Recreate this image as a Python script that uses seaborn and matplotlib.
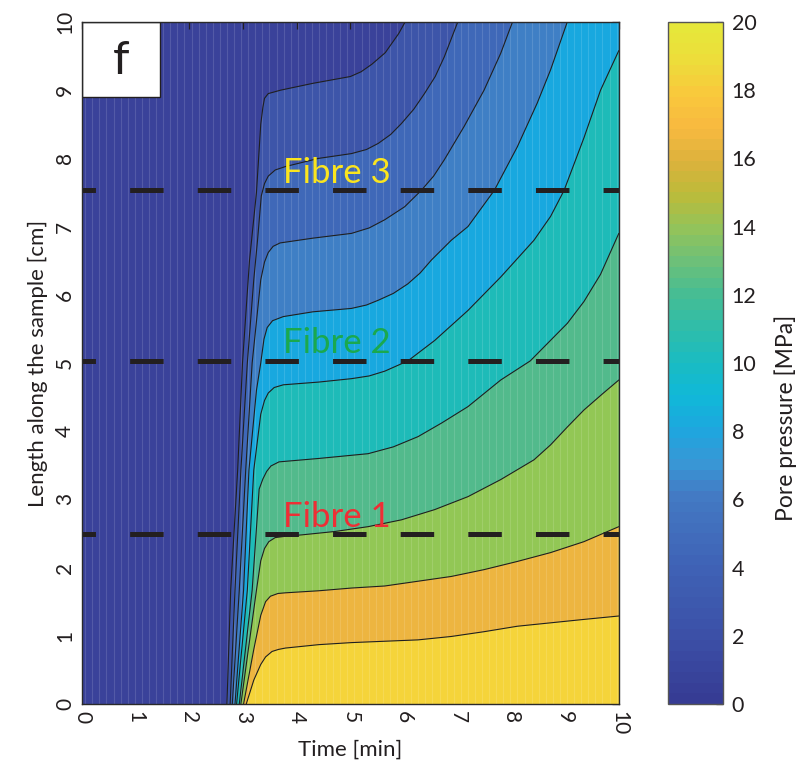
import numpy as np
import pandas as pd
import matplotlib
matplotlib.use("Agg")
import matplotlib.pyplot as plt
import seaborn as sns
from matplotlib.colors import LinearSegmentedColormap, Normalize
from matplotlib.cm import ScalarMappable
from matplotlib.patches import Rectangle

# ---------------- data ----------------
levels = [2, 4, 6, 8, 10, 12, 14, 16, 18]          # contour levels [MPa]

t_02 = [2.70, 2.77, 2.90, 2.99, 3.12, 3.25, 3.33, 3.37, 3.40, 3.47, 3.70, 4.30, 5.00, 5.20, 5.40, 5.65, 5.90, 6.02]
y_02 = [0.00, 1.67, 3.43, 5.00, 6.50, 7.50, 8.50, 8.75, 8.88, 8.95, 9.00, 9.10, 9.20, 9.27, 9.38, 9.55, 9.83, 10.0]

t_04 = [2.76, 2.85, 2.96, 3.08, 3.20, 3.27, 3.34, 3.40, 3.47, 3.60, 3.79, 4.41, 5.02, 5.30, 5.52, 5.75, 5.95, 6.18, 6.38, 6.58, 6.75, 7.00]
y_04 = [0.00, 1.67, 3.43, 5.00, 6.22, 6.80, 7.45, 7.63, 7.74, 7.83, 7.88, 8.00, 8.07, 8.13, 8.22, 8.35, 8.51, 8.72, 8.95, 9.20, 9.49, 10.0]

t_06 = [2.80, 2.93, 3.05, 3.17, 3.33, 3.40, 3.47, 3.56, 3.69, 4.30, 5.02, 5.35, 5.64, 6.01, 6.32, 6.55, 6.75, 7.12, 7.49, 7.80, 8.02]
y_06 = [0.00, 1.67, 3.43, 5.00, 6.22, 6.48, 6.62, 6.71, 6.76, 6.83, 6.90, 6.98, 7.10, 7.29, 7.53, 7.74, 7.98, 8.47, 9.00, 9.54, 10.0]

t_08 = [2.85, 3.01, 3.11, 3.25, 3.33, 3.39, 3.45, 3.55, 3.75, 4.30, 5.02, 5.30, 5.52, 5.80, 6.07, 6.30, 6.51, 6.88, 7.19, 7.68, 8.11, 8.48, 8.73, 9.04]
y_08 = [0.00, 1.67, 3.43, 4.60, 5.00, 5.35, 5.52, 5.62, 5.68, 5.75, 5.80, 5.85, 5.92, 6.02, 6.16, 6.32, 6.51, 6.80, 7.00, 7.53, 8.17, 8.81, 9.30, 10.0]

t_10 = [2.88, 3.08, 3.20, 3.33, 3.40, 3.47, 3.58, 3.75, 4.41, 5.02, 5.35, 5.64, 6.07, 6.57, 7.19, 7.80, 8.42, 8.73, 8.98, 9.35, 9.66, 10.0]
y_10 = [0.00, 1.67, 3.43, 4.25, 4.45, 4.56, 4.64, 4.68, 4.72, 4.77, 4.81, 4.88, 5.03, 5.33, 5.77, 6.26, 6.80, 7.15, 7.53, 8.30, 9.00, 9.58]

t_12 = [2.93, 3.17, 3.30, 3.37, 3.44, 3.52, 3.67, 4.41, 5.33, 5.80, 6.26, 6.70, 7.19, 7.80, 8.35, 9.04, 9.35, 9.66, 10.0]
y_12 = [0.00, 1.67, 3.15, 3.30, 3.41, 3.49, 3.55, 3.60, 3.67, 3.77, 3.92, 4.12, 4.36, 4.75, 5.03, 5.58, 5.90, 6.30, 6.90]

t_14 = [2.96, 3.25, 3.33, 3.40, 3.48, 3.60, 3.80, 4.10, 4.72, 5.33, 5.95, 6.57, 7.19, 7.80, 8.42, 8.73, 9.04, 9.35, 9.70, 10.0]
y_14 = [0.00, 1.67, 2.10, 2.28, 2.38, 2.44, 2.46, 2.48, 2.53, 2.60, 2.70, 2.85, 3.04, 3.29, 3.58, 3.80, 4.06, 4.31, 4.55, 4.75]

t_16 = [3.01, 3.20, 3.33, 3.42, 3.51, 3.65, 3.79, 4.41, 5.02, 5.64, 6.26, 6.88, 7.49, 8.11, 8.73, 9.35, 10.0]
y_16 = [0.00, 0.80, 1.30, 1.50, 1.58, 1.62, 1.63, 1.66, 1.70, 1.73, 1.80, 1.87, 1.97, 2.09, 2.22, 2.38, 2.60]

t_18 = [3.06, 3.20, 3.33, 3.42, 3.54, 3.66, 3.79, 4.41, 5.02, 5.64, 6.26, 6.88, 7.49, 8.11, 8.73, 9.35, 10.0]
y_18 = [0.00, 0.35, 0.58, 0.69, 0.77, 0.80, 0.82, 0.87, 0.90, 0.92, 0.94, 0.99, 1.06, 1.14, 1.19, 1.24, 1.29]

fibre_names = ["Fibre 1", "Fibre 2", "Fibre 3"]
fibre_y = [2.49, 5.03, 7.53]

x_ticks = [0, 1, 2, 3, 4, 5, 6, 7, 8, 9, 10]
y_ticks = [0, 1, 2, 3, 4, 5, 6, 7, 8, 9, 10]
cbar_ticks = [0, 2, 4, 6, 8, 10, 12, 14, 16, 18, 20]

# ---------------- styles ----------------
band_colors = ["#3A429A", "#3D55A9", "#3F68B8", "#3F7FC5", "#18A8DF",
               "#1EBBB8", "#52BA8C", "#92C755", "#EDB540", "#F5D43A"]
cbar_stops = [(0, "#363C94"), (2, "#3C51A8"), (4, "#3F63B6"), (6, "#4379C3"),
              (7, "#3996D5"), (8, "#1EA6DF"), (9, "#10B8D8"), (10, "#1ABCC3"),
              (11, "#2EBDAA"), (12, "#45BD95"), (13, "#6CC079"), (14, "#93C35A"),
              (15, "#BBBB3A"), (16, "#DCB23C"), (17, "#F8B940"), (18, "#F9C83C"),
              (19, "#EDDD3A"), (20, "#E6E73A")]
fibre_colors = ["#EE2E35", "#1AA94E", "#FBE51E"]
ink = "#231F20"

sns.set_style("white")
plt.rcParams["font.family"] = ["Lato", "DejaVu Sans"]
plt.rcParams["lines.scale_dashes"] = False

fig = plt.figure(figsize=(8.0, 7.6), dpi=100)
ax = fig.add_axes([0.1025, 0.0737, 0.671, 0.8974])
cax = fig.add_axes([0.835, 0.0737, 0.069, 0.8974])

xmin, xmax, ymin, ymax = 0, 10, 0, 10
ax.set_xlim(xmin, xmax)
ax.set_ylim(ymin, ymax)

# base band (lowest pressure)
ax.set_facecolor(band_colors[0])

lines_t = [t_02, t_04, t_06, t_08, t_10, t_12, t_14, t_16, t_18]
lines_y = [y_02, y_04, y_06, y_08, y_10, y_12, y_14, y_16, y_18]

# painter's fill: region with pressure above each level
for k, (tt, yy) in enumerate(zip(lines_t, lines_y)):
    px = list(tt) + [xmax, xmax]
    py = list(yy) + [yy[-1] if tt[-1] >= xmax else ymax, ymin]
    ax.fill(px, py, color=band_colors[k + 1], lw=0, zorder=1)

# faint vertical rendering stripes
ax.vlines(np.arange(0.06, 10, 0.132), ymin, ymax, color="white", alpha=0.13,
          lw=0.8, zorder=1.5)

# contour lines
for lev, tt, yy in zip(levels, lines_t, lines_y):
    df = pd.DataFrame({"t": tt, "y": yy})
    sns.lineplot(data=df, x="t", y="y", sort=False, estimator=None,
                 color="#1f1f1f", lw=0.8, ax=ax, legend=False, zorder=2)

# fibre lines and labels
for name, fy, fc in zip(fibre_names, fibre_y, fibre_colors):
    ax.axhline(fy, color=ink, lw=3.6, ls=(14.4, (24.1, 24.6)), zorder=3)
    ax.text(3.74, fy + 0.11, name, color=fc, fontsize=25, va="baseline",
            ha="left", zorder=4)

# panel label
ax.add_patch(Rectangle((0, 0.89), 0.146, 0.11, transform=ax.transAxes,
                       facecolor="white", edgecolor=ink, lw=1.0, zorder=5))
ax.text(0.073, 0.943, "f", transform=ax.transAxes, fontsize=34, color=ink,
        ha="center", va="center", zorder=6)

ax.set_xticks(x_ticks)
ax.set_yticks(y_ticks)
ax.set_xticklabels([str(v) for v in x_ticks])
ax.set_yticklabels([str(v) for v in y_ticks])
ax.tick_params(axis="both", direction="in", length=5, width=0.9, colors=ink,
               labelsize=15, top=True, right=True)
ax.tick_params(axis="x", labelrotation=-90, pad=5)
ax.tick_params(axis="y", labelrotation=90, pad=5)
for lab in ax.get_yticklabels():
    lab.set_va("center")
for s in ax.spines.values():
    s.set_color("#2a2a2a")
    s.set_linewidth(1.0)
    s.set_zorder(7)
ax.set_xlabel("Time [min]", fontsize=16, color=ink, labelpad=3)
ax.set_ylabel("Length along the sample [cm]", fontsize=16, color=ink, labelpad=5)

# colorbar
vals = [v for v, c in cbar_stops]
cols = [c for v, c in cbar_stops]
cmap = LinearSegmentedColormap.from_list(
    "pp", [((v - vals[0]) / (vals[-1] - vals[0]), c) for v, c in zip(vals, cols)], N=64)
sm = ScalarMappable(norm=Normalize(0, 20), cmap=cmap)
cb = fig.colorbar(sm, cax=cax, ticks=cbar_ticks)
cb.outline.set_edgecolor("#555555")
cb.outline.set_linewidth(1.0)
cax.tick_params(direction="in", length=5, width=0.9, colors=ink, labelsize=15.5, pad=6)
cb.set_label("Pore pressure [MPa]", fontsize=16.5, color=ink)
cax.yaxis.label.set_rotation_mode("anchor")
cax.yaxis.label.set_verticalalignment("center")
cax.yaxis.label.set_horizontalalignment("center")
cax.yaxis.set_label_coords(2.13, 0.42)

fig.savefig("out.png", dpi=100)
